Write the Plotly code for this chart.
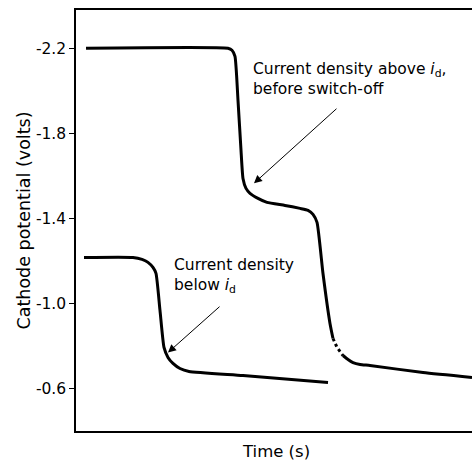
import plotly.graph_objects as go

# Time axis in arbitrary units (0-100), potentials in volts
upper_t = [2.53, 38.38, 39.39, 40.15, 40.91, 41.67, 42.17, 42.93, 43.94, 45.96, 48.23,
           52.78, 56.57, 58.59, 59.85, 60.86, 62.37, 64.14, 64.90]
upper_v = [-2.20, -2.20, -2.191, -2.162, -1.955, -1.720, -1.588, -1.541, -1.518, -1.494, -1.475,
           -1.461, -1.447, -1.438, -1.419, -1.381, -1.141, -0.906, -0.835]
gap_t = [64.90, 65.91, 67.42]
gap_v = [-0.835, -0.793, -0.755]
tail_t = [67.42, 68.69, 69.95, 71.72, 74.24, 87.63, 100.0]
tail_v = [-0.755, -0.736, -0.722, -0.713, -0.708, -0.675, -0.652]

lower_t = [2.02, 14.39, 16.67, 18.18, 19.44, 20.20, 21.21, 22.22, 23.23, 24.49, 26.26, 28.54, 42.17, 63.64]
lower_v = [-1.216, -1.216, -1.207, -1.193, -1.169, -1.141, -0.967, -0.793, -0.746, -0.718, -0.694,
           -0.680, -0.661, -0.628]

tick_vals = [-2.2, -1.8, -1.4, -1.0, -0.6]
tick_labels = ["-2.2", "-1.8", "-1.4", "-1.0", "-0.6"]

FONT = "DejaVu Sans, sans-serif"
line_style = dict(color="black", width=3, shape="spline", smoothing=0.5)

fig = go.Figure()
fig.add_trace(go.Scatter(x=upper_t, y=upper_v, mode="lines", line=line_style, showlegend=False))
fig.add_trace(go.Scatter(x=gap_t, y=gap_v, mode="lines",
                         line=dict(color="black", width=3, dash="dot"), showlegend=False))
fig.add_trace(go.Scatter(x=tail_t, y=tail_v, mode="lines", line=line_style, showlegend=False))
fig.add_trace(go.Scatter(x=lower_t, y=lower_v, mode="lines", line=line_style, showlegend=False))

# arrows
fig.add_annotation(x=44.95, y=-1.565, ax=66.16, ay=-1.922, xref="x", yref="y",
                   axref="x", ayref="y", text="", showarrow=True,
                   arrowhead=2, arrowsize=1.6, arrowwidth=1, arrowcolor="black")
fig.add_annotation(x=23.23, y=-0.769, ax=36.62, ay=-0.991, xref="x", yref="y",
                   axref="x", ayref="y", text="", showarrow=True,
                   arrowhead=2, arrowsize=1.6, arrowwidth=1, arrowcolor="black")
# labels
fig.add_annotation(x=44.2, y=-2.054, xref="x", yref="y", xanchor="left", yanchor="middle",
                   align="left", showarrow=False,
                   text="Current density above <i>i</i><sub>d</sub>,<br>before switch-off",
                   font=dict(family=FONT, size=15.5, color="black"))
fig.add_annotation(x=24.2, y=-1.13, xref="x", yref="y", xanchor="left", yanchor="middle",
                   align="left", showarrow=False,
                   text="Current density<br>below <i>i</i><sub>d</sub>",
                   font=dict(family=FONT, size=15.5, color="black"))
fig.add_annotation(x=0.505, y=0, xref="paper", yref="paper", xanchor="center", yanchor="top",
                   yshift=-9, showarrow=False, text="Time (s)",
                   font=dict(family=FONT, size=16.5, color="black"))

fig.update_layout(
    width=472, height=461,
    margin=dict(l=76, r=0, t=10, b=30),
    paper_bgcolor="white", plot_bgcolor="white",
    font=dict(family=FONT, size=15, color="black"),
    xaxis=dict(range=[0, 100], showgrid=False, zeroline=False, showticklabels=False,
               ticks="", showline=True, mirror=True, linecolor="black", linewidth=1.5),
    yaxis=dict(range=[-0.4, -2.38], showgrid=False, zeroline=False,
               tickmode="array", tickvals=tick_vals, ticktext=tick_labels,
               ticks="outside", ticklen=5, tickwidth=1.2, tickcolor="black",
               showline=True, linecolor="black", linewidth=1.5,
               tickfont=dict(family=FONT, size=15.5, color="black"),
               title=dict(text="Cathode potential (volts)", standoff=1,
                          font=dict(family=FONT, size=17.5, color="black"))),
)

fig.write_html("out.html", config={"displayModeBar": False},
               post_script="document.body.style.margin='0';document.body.style.overflow='hidden';")
